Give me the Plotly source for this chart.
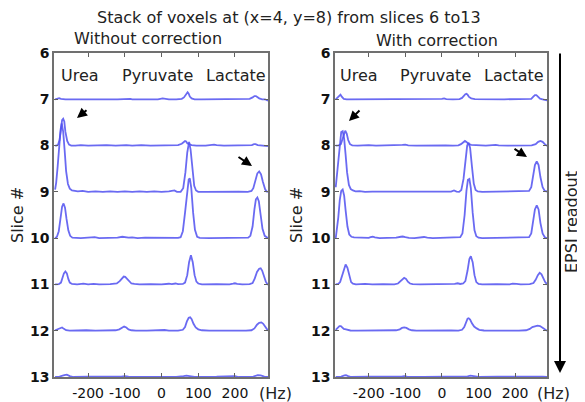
import plotly.graph_objects as go

# ---------------- data ----------------
# Each spectrum: (frequency in Hz, peak amplitude in "slice" units above its baseline)
slices = [7, 8, 9, 10, 11, 12, 13]
x_ticks = [-200, -100, 0, 100, 200]
x_tick_labels = ["-200", "-100", "0", "100", "200"]
y_ticks = [6, 7, 8, 9, 10, 11, 12, 13]
metabolites = ["Urea", "Pyruvate", "Lactate"]

without_7 = [(-290,0),(-284,0.01),(-279,0.025),(-274,0.01),(-262,0),(-240,0),(-210,0.005),(-180,0),(-150,0),(-120,0),
             (-104,0.01),(-98,0.015),(-85,0.01),(-80,0),(-60,0),(-30,0),(-10,0),(3,0.02),(8,0.01),(20,0),(40,0),(55,0.01),
             (61,0.04),(65,0.09),(68,0.14),(71,0.15),(74,0.12),(77,0.06),(82,0.02),(90,0),(110,0),(150,0),(190,0),(225,0),
             (240,0.01),(248,0.04),(253,0.07),(257,0.07),(261,0.05),(266,0.02),(274,0),(282,0),(287,-0.02),(290,-0.03)]
without_8 = [(-290,0),(-286,0),(-282,0.02),(-278,0.12),(-274,0.35),(-271,0.55),(-268,0.58),(-265,0.52),(-262,0.3),
             (-257,0.1),(-252,0.02),(-246,0),(-235,0),(-220,0.01),(-200,0),(-180,0.005),(-150,0.01),(-125,0),(-108,0.015),
             (-102,0.02),(-96,0.01),(-80,0),(-55,0.01),(-30,0),(-5,0.005),(15,0),(30,0.005),(45,0.01),(55,0.04),(60,0.08),
             (64,0.1),(67,0.09),(70,0.05),(75,0.03),(82,0.01),(95,0),(120,0),(143,0.02),(150,0.01),(170,0),(200,0.005),
             (230,0),(246,0.01),(252,0.03),(256,0.03),(262,0.01),(270,0),(280,0),(288,-0.01),(290,-0.01)]
without_9 = [(-290,0.05),(-287,0.2),(-283,0.55),(-279,1.0),(-275,1.35),(-272,1.48),(-268,1.3),(-264,0.9),(-260,0.45),
             (-255,0.17),(-250,0.07),(-244,0.03),(-236,0.02),(-228,0.01),(-215,0.02),(-200,0),(-180,0.01),(-160,0),
             (-140,0.01),(-120,0),(-100,0.01),(-80,0),(-60,0.01),(-40,0),(-20,0.01),(0,0),(20,0.01),(35,0.03),(42,0),
             (52,0),(59,0.08),(65,0.42),(70,0.85),(75,1.08),(79,0.92),(84,0.45),(89,0.13),(94,0.03),(100,0),(120,0),
             (150,0.005),(180,0),(210,0.005),(235,0),(245,0.02),(250,0.08),(256,0.25),(261,0.4),(266,0.44),(271,0.38),
             (276,0.22),(282,0.06),(286,0.01),(290,0)]
without_10 = [(-290,0),(-285,0.03),(-280,0.15),(-275,0.42),(-271,0.68),(-267,0.75),(-263,0.66),(-259,0.42),(-254,0.17),
              (-249,0.05),(-243,0.01),(-220,0),(-200,0.01),(-190,0.03),(-182,0.02),(-170,0),(-140,0.005),
              (-120,0.01),(-107,0.03),(-100,0.02),(-90,0.01),(-80,0.015),(-65,0),(-45,0.01),(-30,0.01),(-10,0),(10,0.01),
              (30,0),(45,0.005),(52,0.02),(58,0.15),(64,0.55),(70,1.08),(74,1.27),(77,1.29),(81,1.08),(86,0.55),(91,0.18),
              (97,0.03),(104,0.005),(130,0),(170,0.005),(210,0),(236,0.01),(242,0.05),(248,0.25),(253,0.62),(257,0.84),
              (261,0.88),(265,0.8),(270,0.5),(275,0.2),(281,0.05),(286,0.01),(290,0)]
without_11 = [(-290,0),(-280,0.005),(-274,0.04),(-270,0.13),(-266,0.24),(-262,0.28),(-258,0.24),(-254,0.12),(-250,0.04),
              (-244,0.01),(-230,0),(-213,0.015),(-200,0),(-185,0.01),(-170,0),(-140,0.005),(-122,0.02),(-114,0.07),
              (-108,0.13),(-103,0.17),(-99,0.165),(-94,0.12),(-88,0.05),(-82,0.02),(-74,0.01),(-60,0),(-30,0.005),(0,0),
              (20,0.015),(28,0.005),(38,0.02),(45,0.005),(58,0.01),(64,0.04),(70,0.2),(75,0.48),(80,0.63),(85,0.48),
              (90,0.2),(95,0.06),(100,0.02),(110,0),(150,0.005),(185,0),(195,0.015),(200,0.025),(206,0.01),(220,0),
              (240,0.005),(248,0.03),(254,0.13),(260,0.27),(266,0.34),(270,0.35),(274,0.3),(279,0.17),(284,0.06),
              (288,0.01),(290,-0.01)]
without_12 = [(-290,0.01),(-284,0.03),(-279,0.06),(-275,0.07),(-271,0.07),(-266,0.04),(-260,0.01),(-250,0),(-230,0.005),
              (-205,0.01),(-180,0),(-150,0),(-125,0.01),(-115,0.03),(-108,0.07),(-102,0.09),(-96,0.07),(-90,0.03),
              (-82,0.01),(-70,0),(-40,0),(-10,0.005),(8,0.015),(20,0),(45,0),(58,0.02),(64,0.08),(69,0.2),(74,0.28),
              (78,0.29),(82,0.25),(87,0.15),(93,0.07),(100,0.03),(110,0.01),(130,0),(160,0.005),(180,0.01),(200,0),
              (230,0),(245,0.01),(253,0.05),(260,0.13),(266,0.17),(272,0.18),(277,0.15),(282,0.08),(287,0.02),(290,0)]
without_13 = [(-290,0),(-278,0.01),(-265,0.04),(-258,0.05),(-250,0.02),(-240,0),(-200,0.005),(-150,0),(-110,0.01),
              (-100,0.02),(-90,0.01),(-50,0),(0,0.005),(40,0),(60,0.02),(68,0.03),(76,0.02),(90,0),(150,0.005),
              (190,0.01),(200,0.02),(210,0),(250,0.01),(262,0.04),(270,0.035),(280,0.01),(290,0)]

with_7 = [(-290,0),(-285,0.04),(-281,0.09),(-277,0.1),(-273,0.05),(-268,0.01),(-260,0),(-230,0),(-200,0.005),(-160,0),
          (-120,0),(-103,0.01),(-95,0.005),(-60,0),(-20,0),(0,0.01),(6,0.02),(12,0.005),(30,0),(48,0.005),(55,0.03),
          (60,0.08),(64,0.11),(67,0.12),(70,0.1),(74,0.05),(80,0.02),(90,0.005),(120,0),(170,0),(210,0.005),(235,0),
          (244,0.01),(249,0.05),(254,0.09),(258,0.09),(263,0.05),(268,0.015),(275,0),(283,-0.01),(288,-0.03),(290,-0.03)]
with_8 = [(-290,0),(-282,0.005),(-276,0.03),(-272,0.12),(-268,0.25),(-264,0.32),(-260,0.26),(-256,0.12),(-251,0.03),
          (-245,0.005),(-230,0),(-200,0.01),(-180,0),(-150,0.005),(-120,0),(-108,0.015),(-100,0.02),(-92,0.005),(-70,0),
          (-40,0.005),(-10,0),(10,0.005),(30,0),(45,0.005),(52,0.03),(58,0.08),(63,0.1),(67,0.08),(72,0.04),(80,0.015),
          (95,0.005),(120,0),(147,0.015),(155,0.005),(180,0),(220,0),(245,0.005),(256,0.03),(263,0.08),(269,0.1),
          (275,0.08),(281,0.03),(286,0),(290,-0.02)]
with_9 = [(-290,0.1),(-287,0.35),(-283,0.75),(-279,1.1),(-275,1.29),(-271,1.31),(-267,1.15),(-263,0.8),(-259,0.42),
          (-254,0.15),(-249,0.06),(-243,0.03),(-236,0.01),(-225,0.015),(-210,0),(-190,0.005),(-170,0.005),(-150,0),
          (-130,0.01),(-110,0),(-90,0.005),(-70,0),(-50,0.005),(-30,0),(-10,0.005),(10,0),(25,0.005),(33,0.03),(40,0.005),
          (47,0),(53,0.04),(59,0.28),(64,0.72),(69,1.0),(73,1.06),(77,0.95),(82,0.55),(87,0.18),(92,0.04),(98,0.01),
          (110,0),(150,0.005),(200,0),(230,0.005),(238,0.02),(244,0.1),(249,0.32),(254,0.58),(259,0.66),(264,0.58),
          (269,0.32),(275,0.1),(281,0.02),(286,0.005),(290,0)]
with_10 = [(-290,0),(-287,0.15),(-283,0.45),(-279,0.82),(-275,1.02),(-271,1.05),(-267,0.92),(-263,0.6),(-258,0.25),
           (-253,0.08),(-247,0.03),(-240,0.015),(-230,0.01),(-220,0),(-200,0.005),(-195,0.02),(-189,0.03),(-183,0.015),
           (-170,0),(-150,0.005),(-125,0.01),(-112,0.03),(-107,0.035),(-100,0.02),(-90,0.005),(-75,0),(-60,0.01),
           (-49,0.025),(-40,0.01),(-25,0),(-5,0.005),(10,0.01),(20,0),(40,0.005),(50,0.02),(56,0.1),(62,0.5),(67,1.02),
           (71,1.26),(75,1.28),(79,1.08),(84,0.55),(89,0.17),(94,0.04),(100,0.01),(110,0),(150,0.005),(200,0),(230,0.005),
           (238,0.02),(244,0.1),(249,0.35),(254,0.62),(259,0.71),(264,0.62),(269,0.33),(275,0.1),(281,0.02),(286,0),
           (290,-0.01)]
with_11 = [(-290,0),(-283,0.01),(-278,0.05),(-273,0.18),(-268,0.35),(-263,0.43),(-258,0.36),(-253,0.18),(-248,0.05),
           (-243,0.015),(-235,0),(-210,0.01),(-190,0),(-160,0.005),(-130,0),(-120,0.02),(-113,0.07),(-108,0.12),
           (-103,0.14),(-98,0.12),(-93,0.06),(-87,0.02),(-80,0.005),(-60,0),(-30,0.005),(-10,0),(15,0.015),(25,0.005),
           (35,0.01),(43,0.025),(50,0.01),(58,0.02),(64,0.07),(70,0.3),(75,0.55),(79,0.61),(84,0.48),(89,0.2),(94,0.05),
           (100,0.01),(110,0),(150,0.005),(185,0),(193,0.015),(198,0.02),(204,0.01),(215,0),(240,0.005),(250,0.03),
           (256,0.1),(262,0.2),(267,0.25),(272,0.22),(277,0.13),(282,0.05),(287,0.005),(290,-0.01)]
with_12 = [(-290,0.02),(-285,0.06),(-280,0.1),(-276,0.1),(-272,0.07),(-268,0.04),(-262,0.03),(-256,0.01),(-250,0.005),
           (-230,0),(-200,0.005),(-170,0),(-140,0),(-125,0.01),(-115,0.03),(-109,0.06),(-103,0.07),(-97,0.06),(-90,0.03),
           (-82,0.01),(-70,0),(-40,0.005),(-10,0),(8,0.01),(25,0.005),(45,0),(55,0.02),(61,0.08),(66,0.2),(70,0.26),
           (73,0.27),(77,0.24),(82,0.16),(88,0.09),(95,0.05),(102,0.02),(115,0.005),(140,0),(180,0.005),(210,0),
           (230,0.01),(240,0.04),(247,0.08),(254,0.1),(261,0.11),(268,0.1),(275,0.07),(281,0.03),(286,0.005),(290,0)]
with_13 = [(-290,0),(-275,0.01),(-266,0.035),(-262,0.04),(-256,0.02),(-248,0),(-200,0.005),(-150,0),(-110,0.01),
           (-103,0.02),(-95,0.01),(-50,0),(0,0.005),(40,0),(70,0.015),(78,0.03),(86,0.02),(100,0),(150,0.005),
           (200,0.005),(240,0.01),(258,0.02),(265,0.015),(275,0.005),(290,0)]

without_spectra = [without_7, without_8, without_9, without_10, without_11, without_12, without_13]
with_spectra = [with_7, with_8, with_9, with_10, with_11, with_12, with_13]

# ---------------- figure ----------------
# The page body has an 8 px default margin, so the figure is sized to fill the rest of the window
# and page-pixel positions are converted into figure-paper fractions with that offset.
PAGE_W, PAGE_H, OFF = 585, 402, 8
W, H = PAGE_W - OFF, PAGE_H - OFF
FONT = "DejaVu Sans"
LINE = "rgba(80,80,240,0.85)"

def px(x):
    return (x - OFF) / W

def py(y):
    return 1 - (y - OFF) / H

fig = go.Figure()
for panel, spectra in ((1, without_spectra), (2, with_spectra)):
    for s, spec in zip(slices, spectra):
        fig.add_trace(go.Scatter(
            x=[p[0] for p in spec], y=[s - p[1] for p in spec],
            mode="lines", line=dict(color=LINE, width=1.8),
            xaxis="x" if panel == 1 else "x2", yaxis="y" if panel == 1 else "y2",
            showlegend=False, hoverinfo="skip"))

ax_common = dict(showgrid=False, zeroline=False, showline=True, linecolor="#707070", linewidth=1.5,
                 mirror="ticks", ticks="inside", ticklen=4, tickcolor="#606060", tickwidth=1,
                 automargin=False)
xdom1 = [px(54), px(268)]
xdom2 = [px(335), px(547)]
ydom = [py(377), py(53)]

xfont = dict(family=FONT, size=14, color="#111")
yfont = dict(family=FONT, size=14, color="#111", weight="bold")
fig.update_layout(
    width=W, height=H, margin=dict(l=0, r=0, t=0, b=0, pad=0, autoexpand=False),
    paper_bgcolor="white", plot_bgcolor="white", showlegend=False,
    xaxis=dict(domain=xdom1, range=[-293, 290], tickvals=x_ticks, ticktext=x_tick_labels, anchor="y",
               tickangle=0, tickfont=xfont, ticklabelstandoff=2, **ax_common),
    yaxis=dict(domain=ydom, range=[13, 6], tickvals=y_ticks, anchor="x", tickfont=yfont, **ax_common),
    xaxis2=dict(domain=xdom2, range=[-292, 287], tickvals=x_ticks, ticktext=x_tick_labels, anchor="y2",
                tickangle=0, tickfont=xfont, ticklabelstandoff=2, **ax_common),
    yaxis2=dict(domain=ydom, range=[13, 6], tickvals=y_ticks, anchor="x2", tickfont=yfont, **ax_common),
)

ann = []
def text(x, y, t, size=16, angle=0):
    ann.append(dict(x=px(x), y=py(y), xref="paper", yref="paper", text=t, showarrow=False,
                    xanchor="center", yanchor="middle", textangle=angle,
                    font=dict(family=FONT, size=size, color="#222")))

text(289, 17, "Stack of voxels at (x=4, y=8) from slices 6 to13")
text(148, 38, "Without correction")
text(437, 41, "With correction")
for cx, name in zip([80, 157, 236], metabolites):
    text(cx, 75, name)
for cx, name in zip([359, 435, 514], metabolites):
    text(cx, 76, name)
text(17, 215, "Slice #", angle=-90)
text(296, 215, "Slice #", angle=-90)
text(275, 393, "(Hz)")
text(553, 393, "(Hz)")
text(572, 222, "EPSI readout", angle=-90)

def arrow(hx, hy, tx, ty, width=2, size=1.0):
    ann.append(dict(x=px(hx), y=py(hy), xref="paper", yref="paper", text="", showarrow=True,
                    ax=tx - hx, ay=ty - hy, axref="pixel", ayref="pixel",
                    arrowhead=2, arrowsize=size, arrowwidth=width, arrowcolor="black", standoff=0))

arrow(77, 118, 88, 109)
arrow(252, 166, 237, 156)
arrow(349, 121, 361, 109)
arrow(527, 157, 513, 148)
arrow(560, 373, 560, 52, width=2, size=1.2)

fig.update_layout(annotations=ann)
fig.write_html("out.html")
